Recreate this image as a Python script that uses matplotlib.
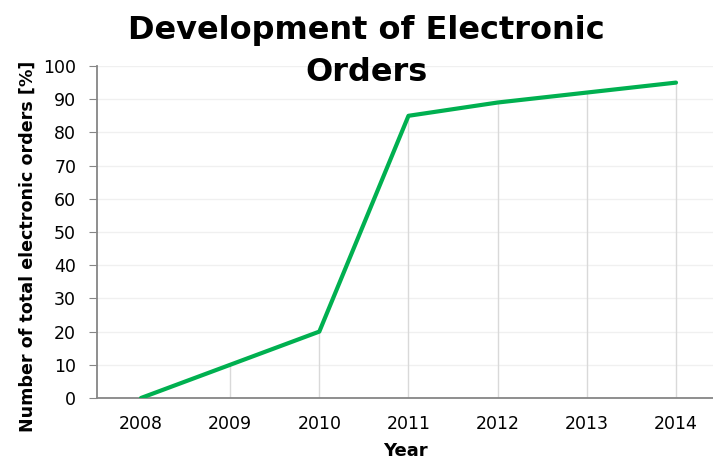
import matplotlib
matplotlib.use("Agg")
import matplotlib.pyplot as plt

years = [2008, 2009, 2010, 2011, 2012, 2013, 2014]
values = [0, 10, 20, 85, 89, 92, 95]
yticks = [0, 10, 20, 30, 40, 50, 60, 70, 80, 90, 100]

plt.rcParams['font.family'] = ['DejaVu Sans']

fig = plt.figure(figsize=(7.13, 4.61), dpi=100)
ax = fig.add_axes([97/713, 63/461, 1 - 97/713, (398-66)/461])

ax.set_xlim(years[0] - 0.493, years[-1] + 0.415)
ax.set_ylim(0, 100)
ax.set_yticks(yticks)
ax.set_xticks(years)
ax.set_xticklabels([str(y) for y in years])

for yv in yticks[1:]:
    ax.axhline(yv, color='#f0f0f0', lw=1, zorder=0)
ax.vlines(years, 0, values, color='#d9d9d9', lw=1, zorder=1)
ax.plot(years, values, color='#00b050', lw=3, zorder=3, solid_capstyle='round')

for s in ['top', 'right']:
    ax.spines[s].set_visible(False)
for s in ['left', 'bottom']:
    ax.spines[s].set_color('#868686')
    ax.spines[s].set_linewidth(1.3)
ax.tick_params(axis='y', length=6, color='#868686', labelsize=12.5, pad=9)
ax.tick_params(axis='x', length=0, labelsize=12.5, pad=12)

ax.set_ylabel('Number of total electronic orders [%]', fontsize=12.6, fontweight='bold')
ax.yaxis.set_label_coords((37 - 97) / 616, (398 - 246) / 332)
ax.set_xlabel('Year', fontsize=13, fontweight='bold', labelpad=7)

fig.text(366/713, 1 - 15/461, 'Development of Electronic\nOrders', ha='center', va='top',
         fontsize=23, fontweight='bold', linespacing=1.45)

fig.savefig('out.png', dpi=100)
